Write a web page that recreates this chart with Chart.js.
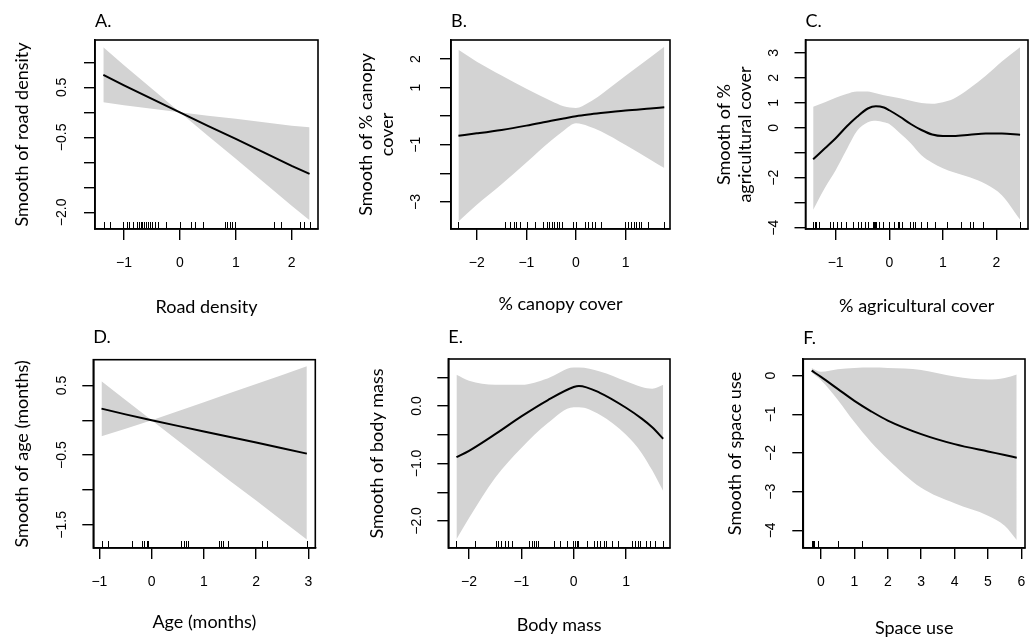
<!DOCTYPE html>
<html><head><meta charset="utf-8">
<script src="https://cdn.jsdelivr.net/npm/chart.js@4/dist/chart.umd.min.js"></script>
<style>
html,body{margin:0;padding:0;background:#fff;overflow:hidden;width:1036px;height:637px;position:relative}
canvas{position:absolute}
</style></head>
<body>
<canvas id="cA"></canvas><canvas id="cB"></canvas><canvas id="cC"></canvas>
<canvas id="cD"></canvas><canvas id="cE"></canvas><canvas id="cF"></canvas>
<script>
// ---------- DATA ----------
// A. Road density
const roadX     = [-1.37, -1, -0.5, 0, 0.5, 1, 1.5, 2, 2.32];
const roadFit   = [0.75, 0.54, 0.27, 0, -0.27, -0.53, -0.80, -1.07, -1.23];
const roadUpper = [1.30, 0.94, 0.47, 0.0, -0.07, -0.13, -0.20, -0.27, -0.30];
const roadLower = [0.20, 0.14, 0.07, 0.0, -0.47, -0.93, -1.40, -1.87, -2.16];
const roadRug   = [-1.35, -1.25, -1.01, -0.95, -0.91, -0.84, -0.76, -0.73, -0.70, -0.67, -0.64, -0.60, -0.57, -0.54, -0.50, -0.44, -0.39, -0.24, 0.0, 0.19, 0.27, 0.41, 0.81, 0.85, 0.89, 0.93, 0.98, 1.68, 1.81, 2.15, 2.22, 2.32];
const roadXTicks = [-1, 0, 1, 2];
const roadXTickLabels = ['\u22121', '0', '1', '2'];
const roadYTicks = [-2, -1.5, -1, -0.5, 0, 0.5, 1];
const roadYTickLabels = ['\u22122.0', '', '', '\u22120.5', '', '0.5', ''];

// B. % canopy cover
const canopyX     = [-2.37, -2, -1.5, -1, -0.5, -0.25, 0, 0.25, 0.5, 1, 1.5, 1.78];
const canopyFit   = [-0.68, -0.60, -0.48, -0.33, -0.16, -0.08, 0.0, 0.06, 0.11, 0.20, 0.27, 0.31];
const canopyUpper = [2.32, 1.90, 1.42, 0.96, 0.53, 0.35, 0.29, 0.47, 0.75, 1.41, 2.06, 2.43];
const canopyLower = [-3.68, -3.10, -2.38, -1.62, -0.85, -0.51, -0.25, -0.35, -0.53, -1.01, -1.52, -1.81];
const canopyRug   = [-2.37, -1.43, -1.34, -1.26, -1.20, -1.13, -0.99, -0.83, -0.66, -0.59, -0.54, -0.49, -0.44, -0.39, -0.34, -0.29, -0.07, 0.0, 0.19, 0.24, 0.32, 0.38, 0.50, 0.99, 1.05, 1.10, 1.16, 1.21, 1.26, 1.32, 1.46, 1.78];
const canopyXTicks = [-2, -1, 0, 1];
const canopyXTickLabels = ['\u22122', '\u22121', '0', '1'];
const canopyYTicks = [-3, -2, -1, 0, 1, 2];
const canopyYTickLabels = ['\u22123', '', '\u22121', '', '1', '2'];

// C. % agricultural cover
const agriX     = [-1.42, -1.2, -1.0, -0.8, -0.6, -0.4, -0.25, -0.1, 0, 0.2, 0.4, 0.6, 0.8, 1.0, 1.2, 1.5, 1.8, 2.1, 2.44];
const agriFit   = [-1.26, -0.82, -0.42, 0.04, 0.44, 0.77, 0.86, 0.81, 0.70, 0.44, 0.15, -0.09, -0.27, -0.33, -0.33, -0.28, -0.23, -0.23, -0.28];
const agriUpper = [0.84, 1.02, 1.20, 1.35, 1.45, 1.45, 1.38, 1.30, 1.26, 1.18, 1.08, 0.99, 0.96, 1.02, 1.16, 1.58, 2.08, 2.65, 3.22];
const agriLower = [-3.28, -2.40, -1.70, -0.89, -0.12, 0.22, 0.28, 0.22, 0.15, -0.22, -0.62, -1.10, -1.40, -1.62, -1.78, -1.98, -2.25, -2.70, -3.67];
const agriRug   = [-1.42, -1.39, -1.36, -1.31, -1.11, -1.05, -0.98, -0.90, -0.80, -0.67, -0.59, -0.52, -0.45, -0.39, -0.31, -0.28, -0.26, -0.24, -0.20, -0.11, -0.01, 0.09, 0.17, 0.19, 0.23, 0.39, 0.44, 0.48, 0.60, 0.71, 0.85, 1.07, 1.33, 1.51, 1.56, 1.74, 2.44];
const agriXTicks = [-1, 0, 1, 2];
const agriXTickLabels = ['\u22121', '0', '1', '2'];
const agriYTicks = [-4, -3, -2, -1, 0, 1, 2, 3];
const agriYTickLabels = ['\u22124', '', '\u22122', '', '0', '1', '2', '3'];

// D. Age (months)
const ageX     = [-0.96, -0.5, 0, 0.5, 1, 1.5, 2, 2.5, 2.97];
const ageFit   = [0.167, 0.085, 0, -0.08, -0.16, -0.24, -0.32, -0.40, -0.478];
const ageUpper = [0.56, 0.29, 0, 0.13, 0.26, 0.39, 0.52, 0.65, 0.775];
const ageLower = [-0.23, -0.12, 0, -0.29, -0.58, -0.87, -1.15, -1.44, -1.71];
const ageRug   = [-0.957, -0.83, -0.38, -0.19, -0.147, -0.096, -0.064, 0.56, 0.61, 0.66, 0.70, 1.28, 1.32, 1.37, 1.47, 2.11, 2.20, 2.97];
const ageXTicks = [-1, 0, 1, 2, 3];
const ageXTickLabels = ['\u22121', '0', '1', '2', '3'];
const ageYTicks = [-1.5, -1, -0.5, 0, 0.5];
const ageYTickLabels = ['\u22121.5', '', '\u22120.5', '', '0.5'];

// E. Body mass
const massX     = [-2.24, -2.0, -1.5, -1.0, -0.5, 0, 0.1, 0.5, 1.0, 1.3, 1.5, 1.71];
const massFit   = [-0.89, -0.78, -0.49, -0.18, 0.10, 0.33, 0.35, 0.23, -0.03, -0.22, -0.37, -0.57];
const massUpper = [0.545, 0.44, 0.37, 0.37, 0.48, 0.67, 0.67, 0.60, 0.43, 0.33, 0.30, 0.37];
const massLower = [-2.32, -1.95, -1.25, -0.73, -0.30, -0.02, -0.02, -0.15, -0.50, -0.82, -1.12, -1.48];
const massRug   = [-2.24, -1.89, -1.49, -1.44, -1.38, -1.31, -1.25, -1.18, -0.85, -0.80, -0.76, -0.72, -0.68, -0.37, -0.26, -0.13, -0.01, 0.03, 0.06, 0.09, 0.25, 0.38, 0.45, 0.50, 0.57, 0.62, 0.73, 0.84, 1.12, 1.17, 1.22, 1.27, 1.38, 1.46, 1.55, 1.71];
const massXTicks = [-2, -1, 0, 1];
const massXTickLabels = ['\u22122', '\u22121', '0', '1'];
const massYTicks = [-2, -1.5, -1, -0.5, 0, 0.5];
const massYTickLabels = ['\u22122.0', '', '\u22121.0', '', '0.0', ''];

// F. Space use
const spaceX     = [-0.28, 0, 0.5, 1, 1.5, 2, 3, 4, 5, 5.5, 5.86];
const spaceFit   = [0.13, -0.03, -0.34, -0.65, -0.92, -1.16, -1.51, -1.77, -1.96, -2.05, -2.12];
const spaceUpper = [0.20, 0.10, 0.17, 0.20, 0.21, 0.20, 0.15, -0.02, -0.10, -0.06, 0.03];
const spaceLower = [0.08, -0.12, -0.62, -1.20, -1.72, -2.16, -2.90, -3.30, -3.62, -3.88, -4.25];
const spaceRug   = [-0.28, -0.27, -0.26, -0.25, -0.24, -0.23, -0.22, -0.08, 0.52, 1.22];
const spaceXTicks = [0, 1, 2, 3, 4, 5, 6];
const spaceXTickLabels = ['0', '1', '2', '3', '4', '5', '6'];
const spaceYTicks = [-4, -3, -2, -1, 0];
const spaceYTickLabels = ['\u22124', '\u22123', '\u22122', '\u22121', '0'];

// ---------- LAYOUT ----------
const TEXT_FONT = 'Lato';
const TICK_FONT = 'Liberation Sans';
const TITLE_SIZE = 18, TITLE_LH = 21.6;
const TICK_SIZE = 14, TICK_LH = 16.8;
const TICK_LEN = 11;
const BAND = '#d3d3d3';

const panels = [
  {id:'cA', letter:'A.', canvas:[0,0,345,330], box:[95,40,318,229], letterY:21, xTitleY:307.5, yTitleX:22, yLabelDist:33.3,
   xMin:-1.519, xMax:2.471, yMin:-2.333, yMax:1.447, xTitle:'Road density', yTitle:'Smooth of road density',
   x:roadX, fit:roadFit, up:roadUpper, lo:roadLower, rug:roadRug, xt:roadXTicks, xtl:roadXTickLabels, yt:roadYTicks, ytl:roadYTickLabels, smooth:false},
  {id:'cB', letter:'B.', canvas:[345,0,345,330], box:[451,40,670,229], letterY:21, xTitleY:304, yTitleX:365.7, yLabelDist:34.7,
   xMin:-2.52, xMax:1.895, yMin:-3.944, yMax:2.664, xTitle:'% canopy cover', yTitle:['Smooth of % canopy','cover'],
   x:canopyX, fit:canopyFit, up:canopyUpper, lo:canopyLower, rug:canopyRug, xt:canopyXTicks, xtl:canopyXTickLabels, yt:canopyYTicks, ytl:canopyYTickLabels, smooth:true},
  {id:'cC', letter:'C.', canvas:[690,0,360,330], box:[805.5,40,1028,229], letterY:21.5, xTitleY:305.8, yTitleX:723.7, yLabelDist:31.3,
   xMin:-1.563, xMax:2.588, yMin:-4.05, yMax:3.51, xTitle:'% agricultural cover', yTitle:['Smooth of %','agricultural cover'],
   x:agriX, fit:agriFit, up:agriUpper, lo:agriLower, rug:agriRug, xt:agriXTicks, xtl:agriXTickLabels, yt:agriYTicks, ytl:agriYTickLabels, smooth:true},
  {id:'cD', letter:'D.', canvas:[0,318,345,330], box:[93.3,359.7,315.3,548], letterY:337.2, xTitleY:621.8, yTitleX:22.3, yLabelDist:30.8,
   xMin:-1.117, xMax:3.132, yMin:-1.832, yMax:0.869, xTitle:'Age (months)', yTitle:'Smooth of age (months)',
   x:ageX, fit:ageFit, up:ageUpper, lo:ageLower, rug:ageRug, xt:ageXTicks, xtl:ageXTickLabels, yt:ageYTicks, ytl:ageYTickLabels, smooth:false},
  {id:'cE', letter:'E.', canvas:[345,318,345,330], box:[448.3,359,670,548], letterY:337.2, xTitleY:625.5, yTitleX:377.3, yLabelDist:30.8,
   xMin:-2.396, xMax:1.84, yMin:-2.471, yMax:0.818, xTitle:'Body mass', yTitle:'Smooth of body mass',
   x:massX, fit:massFit, up:massUpper, lo:massLower, rug:massRug, xt:massXTicks, xtl:massXTickLabels, yt:massYTicks, ytl:massYTickLabels, smooth:true},
  {id:'cF', letter:'F.', canvas:[690,318,360,330], box:[803.3,359,1025,548], letterY:338.5, xTitleY:628, yTitleX:734.7, yLabelDist:32.3,
   xMin:-0.53, xMax:6.108, yMin:-4.456, yMax:0.432, xTitle:'Space use', yTitle:'Smooth of space use',
   x:spaceX, fit:spaceFit, up:spaceUpper, lo:spaceLower, rug:spaceRug, xt:spaceXTicks, xtl:spaceXTickLabels, yt:spaceYTicks, ytl:spaceYTickLabels, smooth:true}
];

const measureCtx = document.createElement('canvas').getContext('2d');
measureCtx.font = TICK_SIZE + 'px ' + TICK_FONT;

function rugBoxPlugin(rug) {
  return {
    id: 'rugBox',
    afterDatasetsDraw(chart) {
      const {ctx, chartArea: a, scales: {x}} = chart;
      ctx.save();
      ctx.strokeStyle = '#000';
      ctx.lineWidth = 1;
      ctx.beginPath();
      for (const v of rug) {
        const px = Math.round(x.getPixelForValue(v)) + 0.5;
        ctx.moveTo(px, a.bottom);
        ctx.lineTo(px, a.bottom - 7);
      }
      ctx.stroke();
      ctx.lineWidth = 1.6;
      ctx.strokeRect(a.left, a.top, a.right - a.left, a.bottom - a.top);
      ctx.restore();
    }
  };
}

function makePanel(p) {
  const cv = document.getElementById(p.id);
  const [cl, ct, cw, ch] = p.canvas;
  cv.width = cw; cv.height = ch;
  cv.style.left = cl + 'px'; cv.style.top = ct + 'px';
  const L = p.box[0] - cl, T = p.box[1] - ct, R = p.box[2] - cl, B = p.box[3] - ct;
  const widest = Math.max(...p.ytl.map(s => measureCtx.measureText(s).width));
  const letterPadTop = (p.letterY - ct) - TITLE_LH / 2;
  const pts = arr => p.x.map((xv, i) => ({x: xv, y: arr[i]}));
  const lineOpts = p.smooth ? {cubicInterpolationMode: 'monotone'} : {tension: 0};
  const textFont = {family: TEXT_FONT, size: TITLE_SIZE, lineHeight: 1.2, weight: 'normal'};
  const tickFont = {family: TICK_FONT, size: TICK_SIZE, lineHeight: 1.2};
  new Chart(cv, {
    type: 'line',
    data: {
      datasets: [
        // drawn last (on top): fitted smooth
        Object.assign({data: pts(p.fit), borderColor: '#000', borderWidth: 2, pointRadius: 0, fill: false}, lineOpts),
        // upper confidence limit
        Object.assign({data: pts(p.up), borderColor: 'rgba(0,0,0,0)', borderWidth: 0, pointRadius: 0, fill: false}, lineOpts),
        // lower confidence limit, band filled up to the upper one
        Object.assign({data: pts(p.lo), borderColor: 'rgba(0,0,0,0)', borderWidth: 0, pointRadius: 0, fill: '-1', backgroundColor: BAND}, lineOpts)
      ]
    },
    options: {
      responsive: false, animation: false, devicePixelRatio: 1, events: [],
      layout: {padding: {left: 0, top: 0, right: cw - R, bottom: 0}},
      plugins: {
        legend: {display: false}, tooltip: {enabled: false},
        title: {display: true, text: p.letter, align: 'start', fullSize: false, color: '#000', font: textFont,
          padding: {top: letterPadTop, bottom: T - TITLE_LH - letterPadTop}}
      },
      scales: {
        x: {
          type: 'linear', position: 'bottom', min: p.xMin, max: p.xMax,
          afterBuildTicks: s => { s.ticks = p.xt.map(v => ({value: v})); },
          afterFit: s => { s.height = ch - B; },
          ticks: {autoSkip: false, minRotation: 0, maxRotation: 0, color: '#000', font: tickFont,
            padding: 34 - TICK_LEN - TICK_LH / 2, callback: (v, i) => p.xtl[i]},
          grid: {display: true, drawOnChartArea: false, drawTicks: true, tickLength: TICK_LEN, color: '#000', lineWidth: 1.4},
          border: {display: true, color: '#000', width: 1.6},
          title: {display: true, text: p.xTitle, color: '#000', font: textFont,
            padding: {top: 0, bottom: ch - TITLE_LH / 2 - (p.xTitleY - ct)}}
        },
        y: {
          type: 'linear', position: 'left', min: p.yMin, max: p.yMax,
          afterBuildTicks: s => { s.ticks = p.yt.map(v => ({value: v})); },
          afterFit: s => { s.width = L; },
          ticks: {autoSkip: false, minRotation: 90, maxRotation: 90, crossAlign: 'center', color: '#000', font: tickFont,
            padding: p.yLabelDist - TICK_LEN - widest / 2, callback: (v, i) => p.ytl[i]},
          grid: {display: true, drawOnChartArea: false, drawTicks: true, tickLength: TICK_LEN, color: '#000', lineWidth: 1.4},
          border: {display: true, color: '#000', width: 1.6},
          title: {display: true, text: p.yTitle, color: '#000', font: textFont,
            padding: {top: (p.yTitleX - cl) - TITLE_LH / 2, bottom: 0}}
        }
      }
    },
    plugins: [rugBoxPlugin(p.rug)]
  });
}

panels.forEach(makePanel);
</script>
</body></html>
